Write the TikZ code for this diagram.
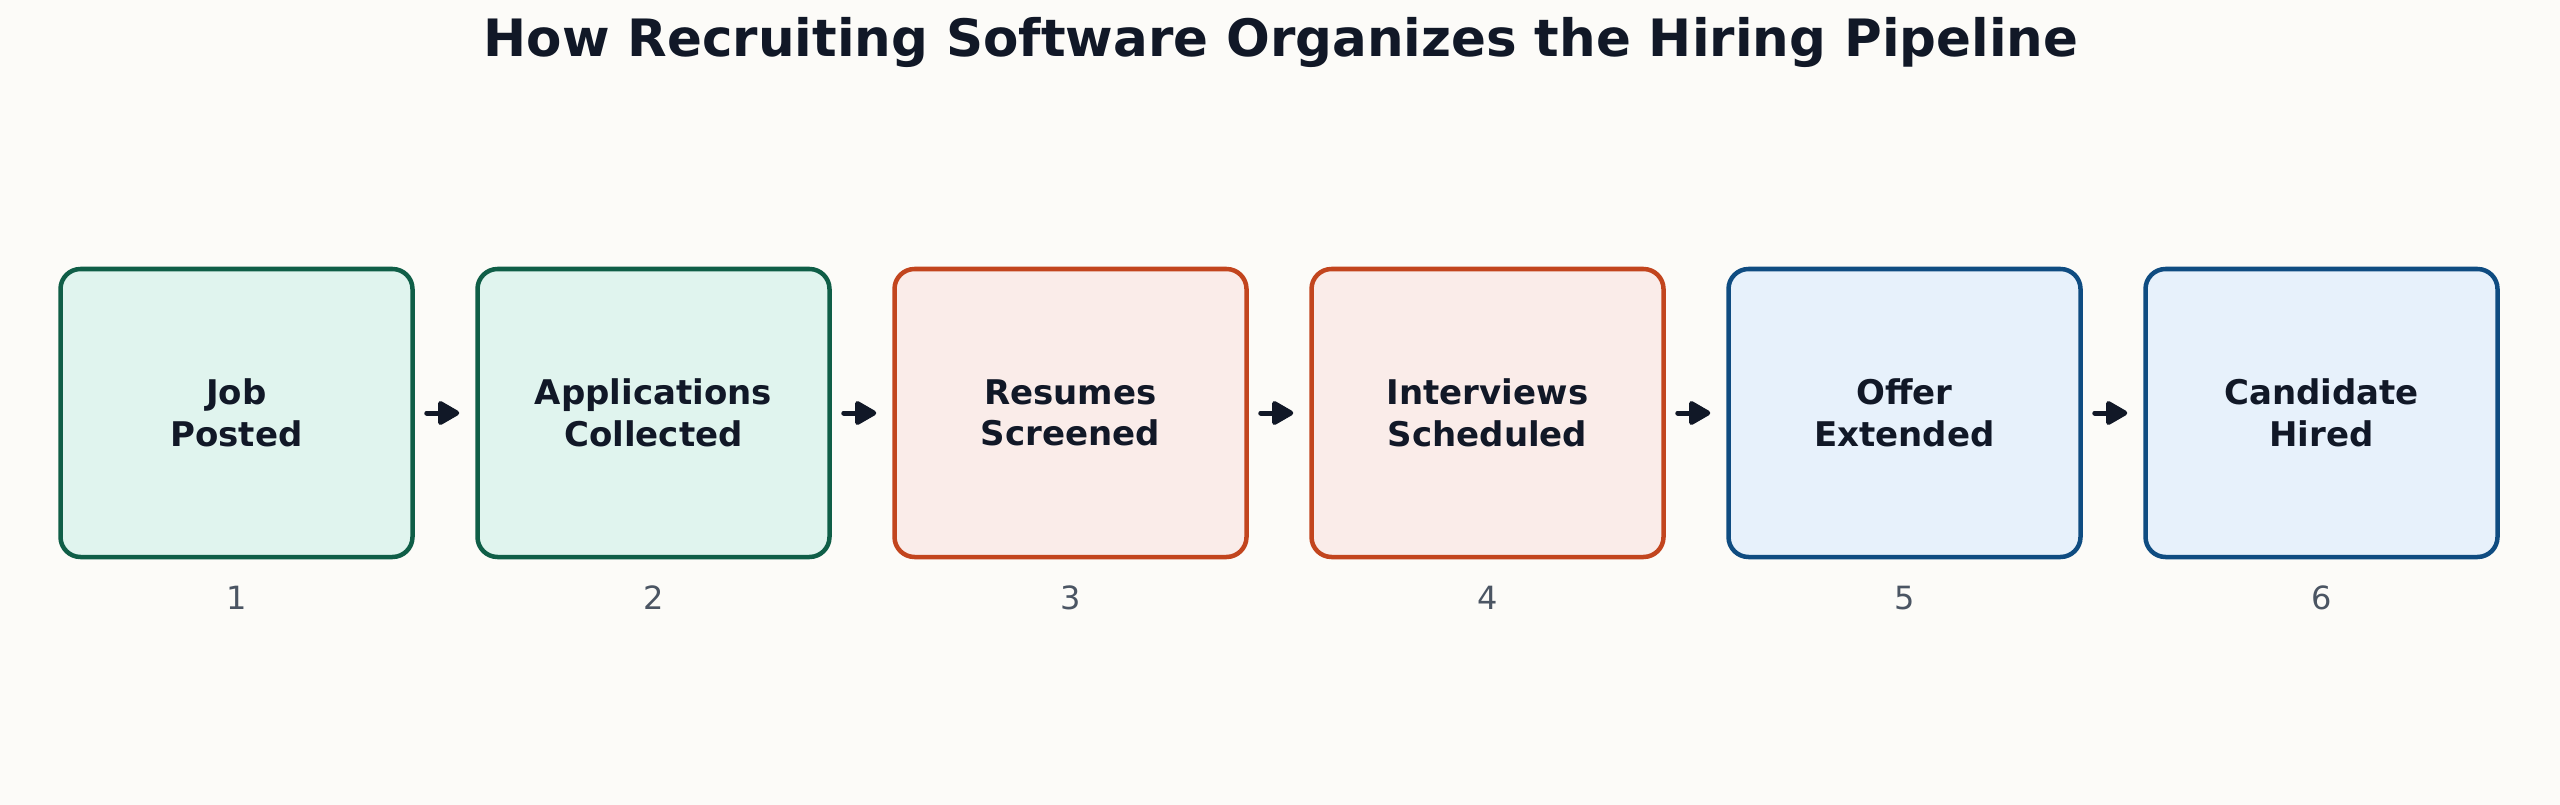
\documentclass[tikz,border=0pt]{standalone}
\usepackage{fontspec}
\setmainfont{DejaVu Sans}
\usetikzlibrary{arrows.meta}
\definecolor{bg}{HTML}{FCFBF8}
\definecolor{ink}{HTML}{111827}
\definecolor{numc}{HTML}{4B5563}
\definecolor{gS}{HTML}{0F5E47}
\definecolor{gF}{HTML}{E0F4EE}
\definecolor{rS}{HTML}{C2451E}
\definecolor{rF}{HTML}{FAECE9}
\definecolor{bS}{HTML}{0F4C81}
\definecolor{bF}{HTML}{E7F1FB}
\tikzset{
  stage/.style={draw=#1S, fill=#1F, line width=4.5pt, rounded corners=20pt,
    minimum width=352pt, minimum height=288pt, inner sep=0pt,
    align=center, text=ink, font=\fontsize{34}{41.5}\selectfont\bfseries},
  numlabel/.style={text=numc, font=\fontsize{32}{38}\selectfont, inner sep=0pt},
  flow/.style={draw=ink, line width=5pt, line cap=round,
    -{Triangle[length=24pt,width=26pt,round]}, shorten <=12pt, shorten >=16pt}
}
\begin{document}
\begin{tikzpicture}[x=1pt,y=-1pt]
\fill[bg] (0,0) rectangle (2560,805);
\useasboundingbox (0,0) rectangle (2560,805);
\node[text=ink, font=\fontsize{51.5}{60}\selectfont\bfseries] (title) at (1281,42) {How Recruiting Software Organizes the Hiring Pipeline};
\node[stage=g] (b1) at (236.5,413) {Job\\Posted};
\node[stage=g] (b2) at (653.5,413) {Applications\\Collected};
\node[stage=r] (b3) at (1070.5,413) {Resumes\\Screened};
\node[stage=r] (b4) at (1487.5,413) {Interviews\\Scheduled};
\node[stage=b] (b5) at (1904.5,413) {Offer\\Extended};
\node[stage=b] (b6) at (2321.5,413) {Candidate\\Hired};
\foreach \i in {1,...,6}{
  \node[numlabel] (n\i) at ([yshift=-185pt]b\i.center) {\i};
}
\draw[flow] (b1.east) -- (b2.west);
\draw[flow] (b2.east) -- (b3.west);
\draw[flow] (b3.east) -- (b4.west);
\draw[flow] (b4.east) -- (b5.west);
\draw[flow] (b5.east) -- (b6.west);
\end{tikzpicture}
\end{document}
